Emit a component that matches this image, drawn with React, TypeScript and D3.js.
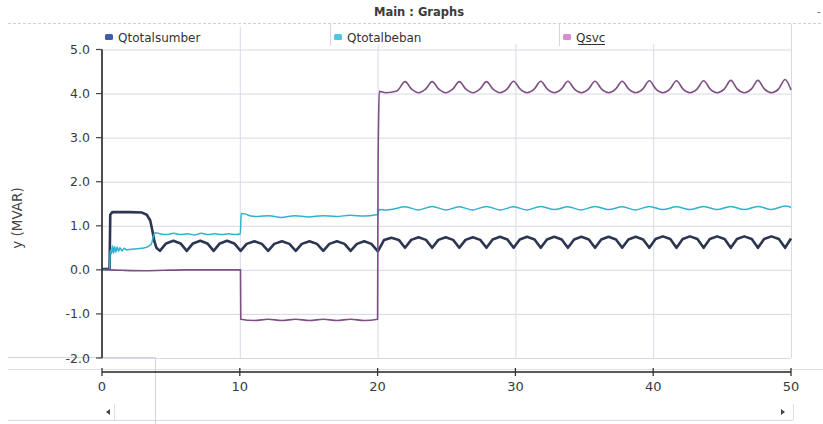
import React from 'react';
import * as d3 from 'd3';

type P = [number, number];

const seriesNames = ['Qtotalsumber', 'Qtotalbeban', 'Qsvc'];
const xTicks = [0, 10, 20, 30, 40, 50];
const yTicks = [-2, -1, 0, 1, 2, 3, 4, 5];
const yTickLabels = ['-2.0', '-1.0', '0.0', '1.0', '2.0', '3.0', '4.0', '5.0'];

const qTotalSumber: P[] = [
  [0, 0.02], [0.55, 0.02], [0.6, 1.25], [0.75, 1.31], [2.0, 1.31], [2.9, 1.3], [3.25, 1.25], [3.5, 1.12], [3.65, 0.9], [3.8, 0.65], [3.95, 0.5], [4.2, 0.43],
  [4.65, 0.6], [5.18, 0.66], [5.7, 0.6], [6.15, 0.43],
  [6.6, 0.6], [7.13, 0.66], [7.65, 0.6], [8.1, 0.43],
  [8.55, 0.6], [9.08, 0.66], [9.6, 0.6], [10.06, 0.43],
  [10.5, 0.59], [11.06, 0.65], [11.6, 0.59], [12.06, 0.43],
  [12.5, 0.59], [13.06, 0.65], [13.6, 0.59], [14.06, 0.43],
  [14.5, 0.59], [15.06, 0.65], [15.6, 0.59], [16.06, 0.43],
  [16.5, 0.59], [17.05, 0.65], [17.6, 0.59], [18.04, 0.43],
  [18.5, 0.59], [19.03, 0.65], [19.55, 0.59], [20.02, 0.42],
  [20.47, 0.68], [21.0, 0.73], [21.54, 0.68], [21.99, 0.5],
  [22.44, 0.68], [22.97, 0.74], [23.51, 0.68], [23.96, 0.5],
  [24.41, 0.68], [24.94, 0.74], [25.48, 0.68], [25.93, 0.5],
  [26.38, 0.68], [26.91, 0.74], [27.45, 0.68], [27.9, 0.5],
  [28.35, 0.69], [28.88, 0.75], [29.42, 0.69], [29.87, 0.5],
  [30.32, 0.69], [30.85, 0.75], [31.39, 0.69], [31.84, 0.5],
  [32.29, 0.69], [32.82, 0.75], [33.36, 0.69], [33.81, 0.5],
  [34.26, 0.69], [34.79, 0.75], [35.33, 0.69], [35.78, 0.5],
  [36.23, 0.69], [36.76, 0.75], [37.3, 0.69], [37.75, 0.5],
  [38.2, 0.69], [38.73, 0.75], [39.27, 0.69], [39.72, 0.5],
  [40.17, 0.7], [40.7, 0.76], [41.24, 0.7], [41.69, 0.5],
  [42.14, 0.7], [42.67, 0.76], [43.21, 0.7], [43.66, 0.5],
  [44.11, 0.7], [44.64, 0.76], [45.18, 0.7], [45.63, 0.5],
  [46.08, 0.7], [46.61, 0.76], [47.15, 0.7], [47.6, 0.5],
  [48.05, 0.7], [48.58, 0.76], [49.12, 0.7], [49.57, 0.5],
  [50, 0.71],
];

const qTotalBeban: P[] = [
  [0, 0.0], [0.55, 0.0], [0.6, 0.45], [0.68, 0.36], [0.76, 0.54], [0.84, 0.38], [0.92, 0.53], [1.0, 0.4], [1.1, 0.52], [1.2, 0.42], [1.3, 0.5], [1.45, 0.43], [1.6, 0.49], [1.8, 0.45],
  [2.1, 0.47], [2.6, 0.48], [3.1, 0.5], [3.4, 0.54], [3.6, 0.6], [3.72, 0.75], [3.85, 0.84], [4.2, 0.82], [4.7, 0.8], [5.2, 0.83], [5.7, 0.8], [6.2, 0.82], [6.7, 0.79], [7.2, 0.83], [7.7, 0.8], [8.2, 0.82], [8.7, 0.8], [9.2, 0.82], [9.7, 0.8], [10.04, 0.82],
  [10.1, 1.28], [10.4, 1.27], [10.8, 1.22], [11.3, 1.21], [12.1, 1.23], [13.0, 1.19], [14.0, 1.23], [15.0, 1.2], [16.0, 1.23], [17.0, 1.21], [18.0, 1.24], [19.0, 1.22], [19.9, 1.25], [20.02, 1.26],
  [20.1, 1.37], [20.6, 1.36], [21.0, 1.37], [21.99, 1.43], [22.97, 1.36], [23.96, 1.44], [24.94, 1.36], [25.93, 1.43], [26.91, 1.36], [27.9, 1.44],
  [28.88, 1.36], [29.87, 1.43], [30.85, 1.36], [31.84, 1.44], [32.82, 1.37], [33.81, 1.43], [34.79, 1.36], [35.78, 1.44], [36.76, 1.37], [37.75, 1.43],
  [38.73, 1.36], [39.72, 1.44], [40.7, 1.37], [41.69, 1.43], [42.67, 1.37], [43.66, 1.44], [44.64, 1.37], [45.63, 1.44], [46.61, 1.37], [47.6, 1.44],
  [48.58, 1.37], [49.57, 1.45], [50, 1.42],
];

const qSvc: P[] = [
  [0, 0.01], [0.6, 0.0], [1.5, -0.01], [3.0, -0.02], [4.5, -0.01], [6.0, 0.0], [8.0, 0.0], [10.05, 0.0],
  [10.07, -1.12], [11.06, -1.15], [12.06, -1.12], [13.06, -1.15], [14.06, -1.12], [15.06, -1.15], [16.06, -1.12], [17.05, -1.15], [18.04, -1.12], [19.03, -1.15], [20.0, -1.12],
  [20.03, 2.1], [20.07, 3.35], [20.12, 4.05], [20.6, 4.02], [21.4, 4.06],
  [21.99, 4.27], [22.47, 4.1], [22.97, 4.02], [23.48, 4.1],
  [23.96, 4.27], [24.44, 4.1], [24.94, 4.02], [25.45, 4.1],
  [25.93, 4.27], [26.41, 4.1], [26.91, 4.02], [27.42, 4.1],
  [27.9, 4.27], [28.38, 4.1], [28.88, 4.02], [29.39, 4.1],
  [29.87, 4.28], [30.35, 4.1], [30.85, 4.02], [31.36, 4.1],
  [31.84, 4.28], [32.32, 4.1], [32.82, 4.02], [33.33, 4.1],
  [33.81, 4.28], [34.29, 4.1], [34.79, 4.02], [35.3, 4.1],
  [35.78, 4.28], [36.26, 4.1], [36.76, 4.02], [37.27, 4.1],
  [37.75, 4.28], [38.23, 4.1], [38.73, 4.02], [39.24, 4.1],
  [39.72, 4.29], [40.2, 4.1], [40.7, 4.02], [41.21, 4.1],
  [41.69, 4.29], [42.17, 4.1], [42.67, 4.02], [43.18, 4.1],
  [43.66, 4.29], [44.14, 4.1], [44.64, 4.02], [45.15, 4.1],
  [45.63, 4.3], [46.11, 4.1], [46.61, 4.02], [47.12, 4.1],
  [47.6, 4.3], [48.08, 4.1], [48.58, 4.02], [49.09, 4.1],
  [49.57, 4.32], [50, 4.08],
];

const FONT = '"DejaVu Sans", Verdana, sans-serif';

export default function App() {
  const W = 823;
  const H = 424;
  const x = d3.scaleLinear().domain([0, 50]).range([102, 791]);
  const y = d3.scaleLinear().domain([-2, 5]).range([358, 49.5]);
  const line = d3.line<P>().x((d) => x(d[0])).y((d) => y(d[1]));
  const smooth = d3.line<P>().x((d) => x(d[0])).y((d) => y(d[1])).curve(d3.curveMonotoneX);

  const series = [
    { name: seriesNames[0], path: line(qTotalSumber), stroke: '#2c3652', width: 2.6, swatch: '#3d5ea6', lx: 105 },
    { name: seriesNames[1], path: smooth(qTotalBeban), stroke: '#2fb2d2', width: 1.5, swatch: '#4fc6e0', lx: 334 },
    { name: seriesNames[2], path: smooth(qSvc), stroke: '#7d4f84', width: 1.6, swatch: '#d58ed0', lx: 563 },
  ];

  const grid = '#d9d9e6';
  const axisY = 372;

  return (
    <svg width={W} height={H} style={{ position: 'absolute', left: 0, top: 0, background: '#fff' }} fontFamily={FONT}>
      <rect x={0} y={0} width={W} height={H} fill="#fff" />
      {/* title */}
      <text x={419} y={16} textAnchor="middle" fontSize={11.5} fontWeight="bold" fill="#3a3a3a">Main : Graphs</text>
      <text x={817} y={15} fontSize={10} fill="#666">-</text>
      <line x1={8} x2={823} y1={23.5} y2={23.5} stroke="#cfcfd8" strokeDasharray="3,2" />

      {/* legend */}
      {[330, 559].map((sx) => (
        <line key={sx} x1={sx + 0.5} x2={sx + 0.5} y1={24} y2={46} stroke="#d4d4e2" />
      ))}
      {series.map((s) => (
        <g key={s.name}>
          <rect x={s.lx} y={34} width={8} height={6} rx={1.5} fill={s.swatch} />
          <text x={s.lx + 13} y={42} fontSize={12} fill="#333">{s.name}</text>
        </g>
      ))}
      <line x1={578} x2={605} y1={44.5} y2={44.5} stroke="#333" strokeWidth={1} />

      {/* gridlines */}
      {yTicks.map((t) => (
        <line key={'gy' + t} x1={102} x2={791} y1={y(t) + 0.5} y2={y(t) + 0.5} stroke={grid} />
      ))}
      {xTicks.slice(1).map((t) => (
        <line key={'gx' + t} x1={x(t) + 0.5} x2={x(t) + 0.5} y1={t === 10 ? 27 : 44} y2={358} stroke={grid} />
      ))}
      <line x1={791.5} x2={791.5} y1={24} y2={358} stroke={grid} />
      <line x1={8} x2={155} y1={357.5} y2={357.5} stroke="#cfd3e4" />
      <line x1={155.5} x2={155.5} y1={357} y2={424} stroke="#d4d4de" />
      <line x1={8} x2={823} y1={369.5} y2={369.5} stroke="#e0e0ea" />

      {/* series */}
      {series.map((s) => (
        <path key={'p' + s.name} d={s.path || ''} fill="none" stroke={s.stroke} strokeWidth={s.width} strokeLinejoin="round" />
      ))}

      {/* y axis */}
      <line x1={102} x2={102} y1={y(5)} y2={y(-2)} stroke="#222" strokeWidth={1.6} />
      {yTicks.map((t, i) => (
        <g key={'ty' + t}>
          <line x1={96} x2={102} y1={y(t)} y2={y(t)} stroke="#444" strokeWidth={1.2} />
          <text x={90} y={y(t) + 4.5} textAnchor="end" fontSize={12.5} fill="#3a3a3a">{yTickLabels[i]}</text>
        </g>
      ))}
      <text transform={`translate(22,218) rotate(-90)`} textAnchor="middle" fontSize={13.5} fill="#444">y (MVAR)</text>

      {/* x axis */}
      <line x1={102} x2={791} y1={axisY} y2={axisY} stroke="#222" strokeWidth={1.6} />
      {xTicks.map((t) => (
        <g key={'tx' + t}>
          <line x1={x(t)} x2={x(t)} y1={axisY - 4} y2={axisY + 4} stroke="#333" strokeWidth={1.3} />
          <text x={x(t)} y={391} textAnchor="middle" fontSize={13} fill="#3a3a3a">{t}</text>
        </g>
      ))}

      {/* scrollbar */}
      <line x1={8} x2={793} y1={420.5} y2={420.5} stroke="#d6d8e6" />
      <path d="M106,412 L110,409 L110,415 Z" fill="#444" />
      <line x1={114.5} x2={114.5} y1={404} y2={420} stroke="#dedee6" />
      <path d="M785,412 L781,409 L781,415 Z" fill="#444" />
      <line x1={793.5} x2={793.5} y1={404} y2={420} stroke="#dedee6" />
    </svg>
  );
}
